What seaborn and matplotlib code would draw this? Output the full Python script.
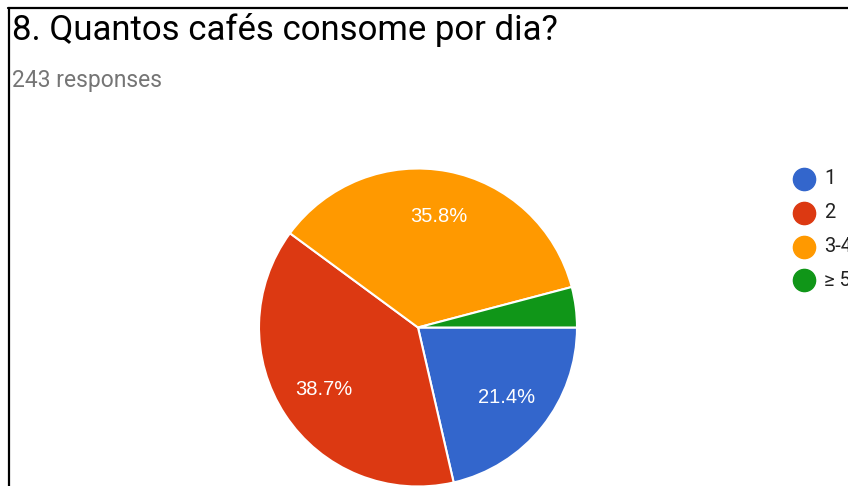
import matplotlib
matplotlib.use("Agg")
import matplotlib.pyplot as plt
from matplotlib.lines import Line2D
import seaborn as sns

# Survey answers: number of coffees per day
categories = ["1", "2", "3-4", "≥ 5"]
shares = [21.4, 38.7, 35.8, 4.1]
colors = ["#3366cc", "#dc3912", "#ff9900", "#109618"]

title = "8. Quantos cafés consome por dia?"
subtitle = "243 responses"

sns.set_style("white")
plt.rcParams["font.family"] = ["Roboto", "DejaVu Sans"]

W, H = 848, 486
fig = plt.figure(figsize=(W / 100, H / 100), dpi=100)
fig.patch.set_facecolor("white")


def fx(px):
    return px / W


def fy(py):
    return 1 - py / H


# pie axes: centre (418, 327.5) px from top-left, radius 159 px
cx, cy, r = 418, 327.5, 159
ax = fig.add_axes([(cx - r) / W, (H - cy - r) / H, 2 * r / W, 2 * r / H])
palette = sns.color_palette(colors)


def pct_label(p):
    return f"{p:.1f}%" if p >= 5 else ""


wedges, _, autotexts = ax.pie(
    shares,
    colors=palette,
    startangle=0,
    counterclock=False,
    radius=1.0,
    autopct=pct_label,
    pctdistance=0.71,
    wedgeprops=dict(edgecolor="white", linewidth=1.5),
    textprops=dict(color="white", fontsize=14.5,
                   family=["Liberation Sans", "DejaVu Sans"]),
)
ax.set_xlim(-1, 1)
ax.set_ylim(-1, 1)
ax.axis("off")

# title block
fig.text(fx(12), fy(40), title, fontsize=25, color="#000000",
         va="baseline", ha="left")
fig.text(fx(12), fy(87), subtitle, fontsize=16.5, color="#757575",
         va="baseline", ha="left")

# legend: round markers with labels
leg_x, leg_y0, leg_step = 804, 179, 33.8
for i, (lab, col) in enumerate(zip(categories, colors)):
    y = leg_y0 + i * leg_step
    fig.add_artist(Line2D([fx(leg_x)], [fy(y)], marker="o", linestyle="",
                          markersize=16, markerfacecolor=col,
                          markeredgecolor=col, transform=fig.transFigure))
    fig.text(fx(824), fy(y), lab, fontsize=14.5, color="#222222",
             va="center", ha="left")

# frame lines along the top and left edges
fig.add_artist(Line2D([fx(8), 1], [fy(8), fy(8)], color="black", linewidth=1.6,
                      transform=fig.transFigure))
fig.add_artist(Line2D([fx(9), fx(9)], [0, fy(8)], color="black", linewidth=1.6,
                      transform=fig.transFigure))

fig.savefig("out.png", dpi=100, facecolor="white")
